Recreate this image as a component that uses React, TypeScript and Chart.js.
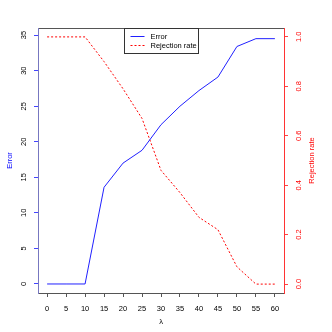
import React, { useEffect, useRef } from "react";
import { Chart, registerables } from "chart.js";

Chart.register(...registerables);

const lambdas = [0, 5, 10, 15, 20, 25, 30, 35, 40, 45, 50, 55, 60];
const errorValues = [0, 0, 0, 13.6, 17, 18.8, 22.4, 25, 27.2, 29.1, 33.4, 34.5, 34.5];
const rejectionValues = [1, 1, 1, 0.9, 0.79, 0.67, 0.46, 0.37, 0.27, 0.22, 0.07, 0, 0];
const xTicks = [0, 5, 10, 15, 20, 25, 30, 35, 40, 45, 50, 55, 60];
const errorTicks = [0, 5, 10, 15, 20, 25, 30, 35];
const rejectionTicks = [0, 0.2, 0.4, 0.6, 0.8, 1.0];
const xTitle = "λ";
const errorTitle = "Error";
const rejectionTitle = "Rejection rate";

const FONT = "'Liberation Sans', Arial, Helvetica, sans-serif";
const FS = 7.5;

const overlayPlugin = {
  id: "overlay",
  beforeDraw(chart: any) {
    const { ctx, chartArea: a } = chart;
    ctx.save();
    ctx.strokeStyle = "#555555";
    ctx.lineWidth = 1;
    ctx.strokeRect(Math.round(a.left) + 0.5, Math.round(a.top) + 0.5, Math.round(a.right - a.left), Math.round(a.bottom - a.top));
    ctx.restore();
  },
  afterDraw(chart: any) {
    const { ctx, chartArea: a } = chart;
    ctx.save();
    ctx.font = `${FS}px ${FONT}`;
    ctx.textAlign = "center";
    ctx.textBaseline = "middle";
    // x title
    ctx.fillStyle = "#000000";
    ctx.fillText(xTitle, (a.left + a.right) / 2, a.bottom + 29);
    // left title
    const cy = (a.top + a.bottom) / 2;
    ctx.save();
    ctx.translate(a.left - 28, cy);
    ctx.rotate(-Math.PI / 2);
    ctx.fillStyle = "#0000ff";
    ctx.fillText(errorTitle, 0, 0);
    ctx.restore();
    // right title
    ctx.save();
    ctx.translate(a.right + 28, cy);
    ctx.rotate(-Math.PI / 2);
    ctx.fillStyle = "#ff0000";
    ctx.fillText(rejectionTitle, 0, 0);
    ctx.restore();

    // legend
    const ds = chart.data.datasets;
    const bx = 124.5, by = a.top + 0.5, bw = 74, bh = 25;
    ctx.fillStyle = "#ffffff";
    ctx.fillRect(bx, by, bw, bh);
    ctx.strokeStyle = "#333333";
    ctx.lineWidth = 1;
    ctx.strokeRect(bx, by, bw, bh);
    ds.forEach((d: any, i: number) => {
      const y = by + 8 + i * 9;
      ctx.beginPath();
      ctx.strokeStyle = d.borderColor;
      ctx.setLineDash(d.borderDash || []);
      ctx.moveTo(bx + 6, y);
      ctx.lineTo(bx + 20, y);
      ctx.stroke();
      ctx.setLineDash([]);
      ctx.fillStyle = "#000000";
      ctx.textAlign = "left";
      ctx.fillText(d.label, bx + 26, y);
    });
    ctx.restore();
  },
};

export default function App() {
  const ref = useRef<HTMLCanvasElement | null>(null);
  useEffect(() => {
    document.body.style.margin = "0";
    const canvas = ref.current!;
    const tickFont = { family: FONT, size: FS };
    const chart = new Chart(canvas, {
      type: "line",
      data: {
        datasets: [
          {
            label: "Error",
            data: lambdas.map((x, i) => ({ x, y: errorValues[i] })),
            borderColor: "#2020ff",
            borderWidth: 1,
            pointRadius: 0,
            tension: 0,
            yAxisID: "y",
          },
          {
            label: "Rejection rate",
            data: lambdas.map((x, i) => ({ x, y: rejectionValues[i] })),
            borderColor: "#ff0000",
            borderWidth: 1,
            borderDash: [2, 2],
            pointRadius: 0,
            tension: 0,
            yAxisID: "y1",
          },
        ],
      },
      options: {
        animation: false,
        responsive: false,
        devicePixelRatio: 1,
        layout: { padding: { top: 28, left: 0, right: 0, bottom: 0 } },
        plugins: { legend: { display: false }, tooltip: { enabled: false }, title: { display: false } },
        scales: {
          x: {
            type: "linear",
            min: -2.4,
            max: 62.4,
            afterBuildTicks: (s: any) => { s.ticks = xTicks.map((v) => ({ value: v })); },
            afterFit: (s: any) => { s.height = 39; },
            ticks: { font: tickFont, color: "#000000", padding: 7, maxRotation: 0, minRotation: 0 },
            grid: { drawOnChartArea: false, drawTicks: true, tickLength: 4, color: "#555555" },
            border: { display: true, color: "#555555" },
          },
          y: {
            type: "linear",
            position: "left",
            min: -1.27,
            max: 36.0,
            afterBuildTicks: (s: any) => { s.ticks = errorTicks.map((v) => ({ value: v })); },
            afterFit: (s: any) => { s.width = 38; },
            ticks: { font: tickFont, color: "#000000", padding: 6, minRotation: 90, maxRotation: 90, crossAlign: "center" },
            grid: { drawOnChartArea: false, drawTicks: true, tickLength: 4, color: "#4444ff" },
            border: { display: true, color: "#7777c0" },
          },
          y1: {
            type: "linear",
            position: "right",
            min: -0.036,
            max: 1.036,
            afterBuildTicks: (s: any) => { s.ticks = rejectionTicks.map((v) => ({ value: v })); },
            afterFit: (s: any) => { s.width = 48; },
            ticks: {
              font: tickFont,
              color: "#ff0000",
              padding: 6,
              minRotation: 90,
              maxRotation: 90,
              crossAlign: "center",
              callback: (v: any) => Number(v).toFixed(1),
            },
            grid: { drawOnChartArea: false, drawTicks: true, tickLength: 4, color: "#ff4444" },
            border: { display: true, color: "#ff3333" },
          },
        },
      },
      plugins: [overlayPlugin],
    } as any);
    return () => chart.destroy();
  }, []);
  return (
    <div style={{ position: "fixed", left: 0, top: 0, width: 332, height: 332, background: "#ffffff" }}>
      <canvas ref={ref} width={332} height={332} style={{ width: 332, height: 332, display: "block" }} />
    </div>
  );
}
